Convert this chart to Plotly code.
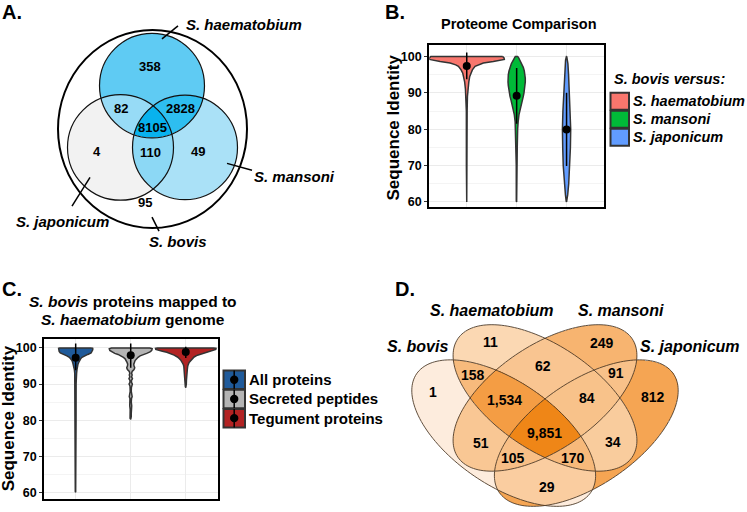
import numpy as np
import plotly.graph_objects as go

FONT = "Liberation Sans, Arial, sans-serif"
W, HT = 747, 512

# ======================= DATA =======================
# Panel A: 3-set Venn inside S. bovis (membership order: S. haematobium, S. mansoni, S. japonicum)
a_set_names = ["S. haematobium", "S. mansoni", "S. japonicum", "S. bovis"]
a_region_keys = ["100", "010", "001", "110", "101", "011", "111", "000"]
a_region_counts = [358, 49, 4, 2828, 82, 110, 8105, 95]

# Panel B: proteome comparison (sequence identity)
b_categories = ["S. haematobium", "S. mansoni", "S. japonicum"]
b_means = [97.4, 89.2, 79.9]
b_upper = [101.1, 96.8, 90.0]
b_lower = [93.7, 81.5, 69.9]
b_haem_level = [100.0, 99.6, 99.2, 98.9, 98.6, 98.2, 97.7, 97.3, 96.3, 95.4, 94.5, 93.0, 91.0, 89.0, 85.0, 70.0, 60.2, 60.0]
b_haem_halfwidth = [0.72, 0.747, 0.753, 0.667, 0.533, 0.333, 0.22, 0.167, 0.113, 0.08, 0.06, 0.042, 0.026, 0.014, 0.008, 0.007, 0.007, 0.0]
b_mans_level = [100.0, 99.5, 99.0, 98.0, 97.0, 96.0, 95.0, 94.0, 93.0, 92.0, 91.0, 90.0, 89.0, 88.0, 87.0, 86.0, 85.0, 84.0, 82.0, 80.0, 75.0, 70.0, 60.2, 60.0]
b_mans_halfwidth = [0.027, 0.047, 0.067, 0.107, 0.133, 0.153, 0.167, 0.173, 0.173, 0.167, 0.16, 0.147, 0.133, 0.113, 0.093, 0.073, 0.06, 0.047, 0.03, 0.02, 0.012, 0.008, 0.007, 0.0]
b_japo_level = [100.0, 99.0, 98.0, 95.0, 90.0, 85.0, 80.0, 75.0, 70.0, 65.0, 62.0, 60.2, 60.0]
b_japo_halfwidth = [0.003, 0.02, 0.027, 0.04, 0.057, 0.073, 0.083, 0.077, 0.067, 0.043, 0.023, 0.007, 0.0]

# Panel C: S. bovis proteins mapped to S. haematobium genome
c_categories = ["All proteins", "Secreted peptides", "Tegument proteins"]
c_means = [97.3, 98.0, 98.9]
c_upper = [101.2, 101.2, 100.3]
c_lower = [93.8, 94.5, 97.2]
c_all_level = [100.0, 99.9, 99.5, 99.0, 98.6, 98.2, 97.8, 97.4, 97.0, 96.5, 96.0, 95.5, 95.0, 94.0, 93.0, 92.0, 90.0, 80.0, 70.0, 60.2, 60.0]
c_all_halfwidth = [0.29, 0.31, 0.31, 0.30, 0.28, 0.22, 0.16, 0.115, 0.09, 0.067, 0.055, 0.042, 0.034, 0.024, 0.017, 0.012, 0.008, 0.007, 0.007, 0.007, 0.0]
c_sec_level = [100.0, 99.8, 99.3, 98.9, 98.5, 98.2, 97.8, 97.4, 97.0, 96.5, 96.0, 95.5, 95.0, 94.5, 94.0, 93.5, 93.0, 92.5, 92.0, 91.5, 91.0, 90.5, 90.0, 89.5, 89.0, 88.0, 87.0, 86.5, 86.0, 85.5, 85.0, 84.0, 83.0, 82.0, 81.0, 80.5, 80.2]
c_sec_halfwidth = [0.35, 0.39, 0.38, 0.35, 0.29, 0.23, 0.17, 0.133, 0.103, 0.079, 0.067, 0.055, 0.06, 0.073, 0.06, 0.026, 0.016, 0.026, 0.016, 0.032, 0.014, 0.014, 0.03, 0.014, 0.012, 0.01, 0.016, 0.026, 0.014, 0.01, 0.01, 0.018, 0.01, 0.01, 0.01, 0.012, 0.0]
c_teg_level = [100.0, 99.9, 99.6, 99.3, 99.1, 98.8, 98.4, 98.0, 97.5, 97.0, 96.5, 96.0, 95.5, 95.0, 94.0, 93.0, 92.0, 91.0, 90.0, 89.3, 89.0]
c_teg_halfwidth = [0.515, 0.55, 0.545, 0.485, 0.424, 0.345, 0.273, 0.212, 0.152, 0.115, 0.085, 0.061, 0.048, 0.036, 0.028, 0.02, 0.016, 0.012, 0.01, 0.008, 0.0]

# Panel D: 4-set Venn (membership order: S. bovis, S. haematobium, S. mansoni, S. japonicum)
d_set_names = ["S. bovis", "S. haematobium", "S. mansoni", "S. japonicum"]
d_region_keys = ["1000", "0100", "0010", "0001", "1100", "0110", "0011", "1110",
                 "0111", "1111", "1010", "0101", "1011", "1101", "1001"]
d_region_counts = [1, 11, 249, 812, 158, 62, 91, 1534, 84, 9851, 51, 34, 105, 170, 29]

# ======================= LAYOUT / STYLE =======================
b_colors = ["#F8766D", "#00BA38", "#619CFF"]
c_colors = ["#1F5A9A", "#B4B4B4", "#B22222"]

# Panel A geometry (pixel coordinates)
a_circles = {  # cx, cy, r
    "H": (152.0, 86.0, 52.5),
    "M": (185.0, 148.0, 52.5),
    "J": (120.5, 148.0, 53.0),
}
a_outer = (58.0, 30.0, 247.0, 229.0)
a_label_pos = {"100": (150, 67), "010": (198, 152), "001": (97, 152), "110": (180, 109),
               "101": (121, 109), "011": (150, 153), "111": (152, 127.5), "000": (145, 203)}
a_blue_stops = [(4, "#F2F2F2"), (49, "#AAE1F7"), (358, "#5FCBF3"), (2828, "#2EBEF0"), (8105, "#08B2EE")]

# Panel D geometry (pixel coordinates): cx, cy, a, b, angle (deg, screen coords)
TH = 34.4
d_ellipses = [
    (503.7, 434.8, 105.5, 52.2, TH),    # S. bovis
    (545.0, 399.5, 105.5, 52.2, TH),    # S. haematobium
    (545.0, 399.5, 105.5, 52.2, -TH),   # S. mansoni
    (586.3, 434.8, 105.5, 52.2, -TH),   # S. japonicum
]
d_label_pos = {"0100": (490, 343), "0010": (602, 344), "1100": (473, 376), "0110": (543, 367),
               "0011": (616, 374), "1000": (433, 394), "1110": (504, 401.5), "0111": (587, 400),
               "0001": (653, 398.5), "1111": (544, 435), "1010": (481, 445), "0101": (613, 443.5),
               "1011": (513, 460), "1101": (573, 459.5), "1001": (547, 488.5)}
d_orange_stops = [(1, "#FDECDD"), (11, "#FBD8B3"), (100, "#F8C087"), (1000, "#F5A24E"), (9851, "#EF8617")]


def make_scale(stops):
    lo, hi = np.log10(stops[0][0]), np.log10(stops[-1][0])
    return [[(np.log10(c) - lo) / (hi - lo), col] for c, col in stops], lo, hi


def in_ellipse(X, Y, cx, cy, a, b, ang):
    t = np.deg2rad(ang)
    dx, dy = X - cx, Y - cy
    u = dx * np.cos(t) + dy * np.sin(t)
    v = -dx * np.sin(t) + dy * np.cos(t)
    return (u / a) ** 2 + (v / b) ** 2 <= 1.0


def ellipse_path(cx, cy, a, b, ang, n=160):
    t = np.deg2rad(ang)
    s = np.linspace(0, 2 * np.pi, n, endpoint=False)
    x = cx + a * np.cos(s) * np.cos(t) - b * np.sin(s) * np.sin(t)
    y = cy + a * np.cos(s) * np.sin(t) + b * np.sin(s) * np.cos(t)
    pts = [f"{xx:.2f},{yy:.2f}" for xx, yy in zip(x, y)]
    return "M" + " L".join(pts) + " Z"


fig = go.Figure()

# ---------- Panel A heatmap fill ----------
xs = np.arange(55, 252) + 0.5
ys = np.arange(28, 236) + 0.5
X, Y = np.meshgrid(xs, ys)
mH = (X - a_circles["H"][0]) ** 2 + (Y - a_circles["H"][1]) ** 2 <= a_circles["H"][2] ** 2
mM = (X - a_circles["M"][0]) ** 2 + (Y - a_circles["M"][1]) ** 2 <= a_circles["M"][2] ** 2
mJ = (X - a_circles["J"][0]) ** 2 + (Y - a_circles["J"][1]) ** 2 <= a_circles["J"][2] ** 2
code = mH.astype(int) * 4 + mM.astype(int) * 2 + mJ.astype(int)
zA = np.full(code.shape, np.nan)
for k, c in zip(a_region_keys, a_region_counts):
    if k == "000":
        continue
    zA[code == int(k, 2)] = round(float(np.log10(c)), 4)
csA, loA, hiA = make_scale(a_blue_stops)
fig.add_trace(go.Heatmap(z=zA, x0=xs[0], dx=1, y0=ys[0], dy=1, colorscale=csA, zmin=loA, zmax=hiA,
                         showscale=False, hoverinfo="skip", xaxis="x", yaxis="y"))

# ---------- Panel D heatmap fill ----------
xs2 = np.arange(405, 690) + 0.5
ys2 = np.arange(320, 512) + 0.5
X2, Y2 = np.meshgrid(xs2, ys2)
code2 = np.zeros(X2.shape, dtype=int)
for i, e in enumerate(d_ellipses):
    code2 += in_ellipse(X2, Y2, *e).astype(int) * (2 ** (3 - i))
zD = np.full(code2.shape, np.nan)
for k, c in zip(d_region_keys, d_region_counts):
    zD[code2 == int(k, 2)] = round(float(np.log10(c)), 4)
csD, loD, hiD = make_scale(d_orange_stops)
fig.add_trace(go.Heatmap(z=zD, x0=xs2[0], dx=1, y0=ys2[0], dy=1, colorscale=csD, zmin=loD, zmax=hiD,
                         showscale=False, hoverinfo="skip", xaxis="x", yaxis="y"))


# ---------- violins ----------
def violin_trace(center, levels, hw, color, xa, ya):
    lv = np.array(levels)
    w = np.array(hw)
    x = np.concatenate([center + w, (center - w)[::-1], [center + w[0]]])
    y = np.concatenate([lv, lv[::-1], [lv[0]]])
    return go.Scatter(x=x, y=y, mode="lines", fill="toself", fillcolor=color,
                      line=dict(color="#333333", width=1.5), hoverinfo="skip",
                      xaxis=xa, yaxis=ya)


b_profiles = [(b_haem_level, b_haem_halfwidth), (b_mans_level, b_mans_halfwidth), (b_japo_level, b_japo_halfwidth)]
for i, (lv, hw) in enumerate(b_profiles):
    fig.add_trace(violin_trace(i + 1, lv, hw, b_colors[i], "x2", "y2"))
fig.add_trace(go.Scatter(
    x=[1, 2, 3], y=b_means, mode="markers", marker=dict(color="black", size=8),
    error_y=dict(type="data", symmetric=False,
                 array=[u - m for u, m in zip(b_upper, b_means)],
                 arrayminus=[m - l for m, l in zip(b_means, b_lower)],
                 width=0, thickness=1.5, color="black"),
    hoverinfo="skip", xaxis="x2", yaxis="y2"))

c_profiles = [(c_all_level, c_all_halfwidth), (c_sec_level, c_sec_halfwidth), (c_teg_level, c_teg_halfwidth)]
for i, (lv, hw) in enumerate(c_profiles):
    fig.add_trace(violin_trace(i + 1, lv, hw, c_colors[i], "x3", "y3"))
fig.add_trace(go.Scatter(
    x=[1, 2, 3], y=c_means, mode="markers", marker=dict(color="black", size=8),
    error_y=dict(type="data", symmetric=False,
                 array=[u - m for u, m in zip(c_upper, c_means)],
                 arrayminus=[m - l for m, l in zip(c_means, c_lower)],
                 width=0, thickness=1.5, color="black"),
    hoverinfo="skip", xaxis="x3", yaxis="y3"))

# ---------- shapes ----------
shapes = []
for key in ["H", "M", "J"]:
    cx, cy, r = a_circles[key]
    shapes.append(dict(type="circle", xref="x", yref="y", x0=cx - r, x1=cx + r, y0=cy - r, y1=cy + r,
                       line=dict(color="#111111", width=1.2)))
shapes.append(dict(type="circle", xref="x", yref="y", x0=a_outer[0], y0=a_outer[1], x1=a_outer[2], y1=a_outer[3],
                   line=dict(color="black", width=2)))
for (x0, y0, x1, y1) in [(178, 26, 162, 39), (227, 164, 252, 171), (90, 178, 72, 207), (152, 218, 159, 232)]:
    shapes.append(dict(type="line", xref="x", yref="y", x0=x0, y0=y0, x1=x1, y1=y1,
                       line=dict(color="black", width=1.5)))
for e in d_ellipses:
    shapes.append(dict(type="path", xref="x", yref="y", path=ellipse_path(*e),
                       line=dict(color="#4E3B28", width=0.9)))

# legend B
b_rows = [101.7, 119.7, 137.7]
for i, yc in enumerate(b_rows):
    shapes.append(dict(type="rect", xref="x", yref="y", x0=610.5, x1=629, y0=yc - 8.5, y1=yc + 8.5,
                       fillcolor=b_colors[i], line=dict(color="#333333", width=2)))
# legend C
c_rows = [381.2, 400.5, 419.8]
for i, yc in enumerate(c_rows):
    shapes.append(dict(type="rect", xref="x", yref="y", x0=223.5, x1=245, y0=yc - 9.3, y1=yc + 9.3,
                       fillcolor=c_colors[i], line=dict(color="#333333", width=2)))
    shapes.append(dict(type="line", xref="x", yref="y", x0=234.2, x1=234.2, y0=yc - 9.3, y1=yc + 9.3,
                       line=dict(color="black", width=1.5)))
    shapes.append(dict(type="circle", xref="x", yref="y", x0=230, x1=238.4, y0=yc - 4.2, y1=yc + 4.2,
                       fillcolor="black", line=dict(color="black", width=0)))

# ---------- annotations ----------
ann = []


def txt(x, y, s, size, italic=False, anchor="center", angle=0):
    ann.append(dict(x=x, y=y, xref="x", yref="y", text=s, showarrow=False, xanchor=anchor, yanchor="middle",
                    textangle=angle, borderpad=0,
                    font=dict(family=FONT, size=size, color="black", weight="bold",
                              style="italic" if italic else "normal")))


# panel letters
txt(1, 12, "A.", 20, anchor="left")
txt(384, 12, "B.", 20, anchor="left")
txt(0.5, 290, "C.", 20, anchor="left")
txt(394, 290.5, "D.", 20, anchor="left")

# Panel A texts
for k, c in zip(a_region_keys, a_region_counts):
    x, y = a_label_pos[k]
    txt(x, y, f"{c}", 13)
txt(185, 25, a_set_names[0], 15, italic=True, anchor="left")
txt(253, 177, a_set_names[1], 15, italic=True, anchor="left")
txt(15, 222, a_set_names[2], 15, italic=True, anchor="left")
txt(148, 242, a_set_names[3], 15, italic=True, anchor="left")

# Panel B texts
txt(519, 24, "Proteome Comparison", 14.5)
txt(393, 128, "Sequence Identity", 17, angle=-90)
txt(613, 79, "S. bovis versus:", 14.5, italic=True, anchor="left")
for i, yc in enumerate(b_rows):
    txt(631.5, yc, b_categories[i], 14.5, italic=True, anchor="left")

# Panel C texts
txt(133, 303, "<i>S. bovis</i> proteins mapped to", 15.5)
txt(133, 321, "<i>S. haematobium</i> genome", 15.5)
txt(8, 420, "Sequence Identity", 17, angle=-90)
for i, yc in enumerate(c_rows):
    txt(248, yc, c_categories[i], 15, anchor="left")

# Panel D texts
for k, c in zip(d_region_keys, d_region_counts):
    x, y = d_label_pos[k]
    txt(x, y, f"{c:,}", 14)
txt(417, 348, d_set_names[0], 16, italic=True)
txt(492, 311.5, d_set_names[1], 16, italic=True)
txt(621, 311.5, d_set_names[2], 16, italic=True)
txt(690, 348, d_set_names[3], 16, italic=True)


def vaxes(xdom, ydom, xr, yr, xa, ya):
    xax = dict(domain=xdom, range=xr, tickvals=[1, 2, 3], showticklabels=False, ticks="",
               showgrid=True, gridcolor="#EBEBEB", gridwidth=1, zeroline=False,
               showline=True, mirror=True, linecolor="black", linewidth=2.4, anchor=ya, fixedrange=True)
    yax = dict(domain=ydom, range=yr, tickvals=[60, 70, 80, 90, 100], ticks="outside", ticklen=3,
               tickcolor="#333333", tickwidth=1,
               tickfont=dict(family=FONT, size=12.5, color="black", weight="bold"),
               showgrid=True, gridcolor="#EBEBEB", gridwidth=1, zeroline=False,
               minor=dict(tickvals=[65, 75, 85, 95], showgrid=True, gridcolor="#F4F4F4", ticks=""),
               showline=True, mirror=True, linecolor="black", linewidth=2.4, anchor=xa, fixedrange=True)
    return xax, yax


x2, y2 = vaxes([429.3 / W, 604 / W], [1 - 208.3 / HT, 1 - 45 / HT], [0.25, 3.75], [58.47, 103.2], "x2", "y2")
x3, y3 = vaxes([44.3 / W, 217.7 / W], [1 - 500.7 / HT, 1 - 340 / HT], [0.43, 3.58], [58.23, 102.57], "x3", "y3")

fig.update_layout(
    width=W, height=HT, autosize=False,
    margin=dict(l=0, r=0, t=0, b=0),
    paper_bgcolor="white", plot_bgcolor="rgba(0,0,0,0)",
    showlegend=False,
    xaxis=dict(domain=[0, 1], range=[0, W], visible=False, fixedrange=True),
    yaxis=dict(domain=[0, 1], range=[HT, 0], visible=False, fixedrange=True),
    xaxis2=x2, yaxis2=y2, xaxis3=x3, yaxis3=y3,
    shapes=shapes, annotations=ann,
)

fig.write_html("out.html", config={"displayModeBar": False},
               post_script="document.body.style.margin='0px';document.body.style.padding='0px';")
